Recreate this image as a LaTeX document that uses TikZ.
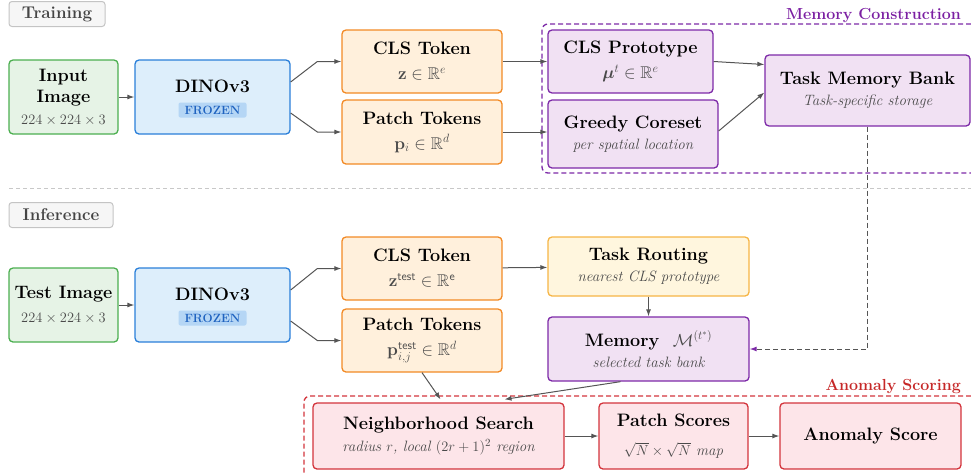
\documentclass[tikz,border=0pt]{standalone}
\usepackage{amsmath,amssymb}
\usetikzlibrary{arrows.meta,calc}

\definecolor{grnline}{HTML}{4CAF50}
\definecolor{grnfill}{HTML}{E6F3E6}
\definecolor{bluline}{HTML}{2A7FD9}
\definecolor{blufill}{HTML}{DDEEFB}
\definecolor{frzfill}{HTML}{B5D6F5}
\definecolor{frztext}{HTML}{1F63C0}
\definecolor{orgline}{HTML}{F28A25}
\definecolor{orgfill}{HTML}{FFF0DC}
\definecolor{purline}{HTML}{7D2AA8}
\definecolor{purfill}{HTML}{F1E1F3}
\definecolor{ambline}{HTML}{F6B545}
\definecolor{ambfill}{HTML}{FFF6DE}
\definecolor{redline}{HTML}{D3343C}
\definecolor{redfill}{HTML}{FDE5E9}
\definecolor{tagline}{HTML}{C4C4C4}
\definecolor{tagfill}{HTML}{F6F6F6}
\definecolor{tagtext}{HTML}{454545}
\definecolor{arrgray}{HTML}{555555}
\definecolor{subgray}{HTML}{4A4A4A}
\definecolor{sepgray}{HTML}{C8C8C8}
\definecolor{purtext}{HTML}{7B1FA2}
\definecolor{redtext}{HTML}{C62828}

\newcommand{\boxtitle}{\fontsize{18}{21}\selectfont\bfseries}
\newcommand{\subtxt}{\fontsize{15}{17}\selectfont\mdseries\itshape\color{subgray}}
\newcommand{\dimtxt}{\fontsize{15}{17}\selectfont\mdseries\color{subgray}}
\newcommand{\mathtxt}{\fontsize{17}{19}\selectfont\mdseries\color{subgray}}

\begin{document}
\begin{tikzpicture}[x=1pt,y=-1pt,
		box/.style={rectangle,rounded corners=4pt,line width=1.3pt,align=center,inner sep=0pt,font=\boxtitle},
		inbox/.style={box,draw=grnline,fill=grnfill},
		dinobox/.style={box,draw=bluline,fill=blufill},
		tokbox/.style={box,draw=orgline,fill=orgfill},
		membox/.style={box,draw=purline,fill=purfill},
		routebox/.style={box,draw=ambline,fill=ambfill},
		scorebox/.style={box,draw=redline,fill=redfill},
		tag/.style={rectangle,rounded corners=3pt,draw=tagline,fill=tagfill,line width=1pt,text=tagtext,font=\fontsize{17}{19}\selectfont\bfseries,minimum height=25pt,inner sep=0pt},
		frozen/.style={rectangle,rounded corners=2pt,fill=frzfill,text=frztext,font=\fontsize{12}{14}\selectfont\bfseries,minimum width=68pt,minimum height=15pt,inner sep=0pt},
		grouplabel/.style={anchor=east,inner sep=0pt,font=\fontsize{16}{18}\selectfont\bfseries},
		arr/.style={-{Latex[length=7pt,width=5pt]},line width=1pt,draw=arrgray},
		group/.style={line width=1.3pt,dash pattern=on 5pt off 3pt,rounded corners=6pt},
	]
	\useasboundingbox (0,0) rectangle (971,475);
	
	% training
	\node[tag,minimum width=96pt] (train) at (57,14) {Training};
	\draw[group,draw=purline] (971,24) -- (542,24) -- (542,173) -- (971,173);
	\node[grouplabel,text=purtext] (memlabel) at (961,16) {Memory Construction};
	
	\node[inbox,minimum width=109pt,minimum height=74pt] (inimg) at (63.5,97) {Input\\Image\\[1pt]\dimtxt $224\times224\times3$};
	\node[dinobox,minimum width=155pt,minimum height=74pt] (dino1) at (212.5,97) {};
	\node[font=\boxtitle,inner sep=0pt] (dinotxt1) at ($(dino1)+(0,-10.5)$) {DINOv3};
	\node[frozen] (frz1) at ($(dino1)+(0,13)$) {FROZEN};
	
	\node[tokbox,minimum width=160pt,minimum height=63pt] (cls1) at (422,61.5) {CLS Token\\[4pt]\mathtxt $\mathbf{z}\in\mathbb{R}^{e}$};
	\node[tokbox,minimum width=160pt,minimum height=64pt] (patch1) at (422,132) {Patch Tokens\\[4pt]\mathtxt $\mathbf{p}_{i}\in\mathbb{R}^{d}$};
	\node[membox,minimum width=165pt,minimum height=63pt] (proto) at (630.5,61.5) {CLS Prototype\\[4pt]\mathtxt $\boldsymbol{\mu}^{t}\in\mathbb{R}^{e}$};
	\node[membox,minimum width=170pt,minimum height=68pt] (coreset) at (633,134) {Greedy Coreset\\\subtxt per spatial location};
	\node[membox,minimum width=205pt,minimum height=71pt] (bank) at (867.5,90.5) {Task Memory Bank\\\subtxt Task-specific storage};
	
	\draw[arr] (inimg) -- (dino1);
	\draw[arr] ($(dino1.east)+(0,-15)$) -- ([xshift=-24pt]cls1.west) -- (cls1.west);
	\draw[arr] ($(dino1.east)+(0,16)$) -- ([xshift=-24pt]patch1.west) -- (patch1.west);
	\draw[arr] (cls1) -- (proto);
	\draw[arr] (patch1.east) -- (patch1.east -| coreset.west);
	\draw[arr] (proto.east) -- ($(bank.west)+(0,-26)$);
	\draw[arr] ($(coreset.east)+(0,-3)$) -- ($(bank.west)+(0,2)$);
	
	\draw[sepgray,line width=0.8pt,dash pattern=on 4pt off 3pt] (9,188) -- (971,188);
	
	% inference
	\node[tag,minimum width=104pt] (infer) at (61,215) {Inference};
	\draw[group,draw=redline] (971,396) -- (304,396) -- (304,475);
	\node[grouplabel,text=redtext] (scorelabel) at (961,386) {Anomaly Scoring};
	
	\node[inbox,minimum width=109pt,minimum height=74pt] (testimg) at (63.5,305) {Test Image\\[3pt]\dimtxt $224\times224\times3$};
	\node[dinobox,minimum width=155pt,minimum height=74pt] (dino2) at (212.5,305) {};
	\node[font=\boxtitle,inner sep=0pt] (dinotxt2) at ($(dino2)+(0,-10.5)$) {DINOv3};
	\node[frozen] (frz2) at ($(dino2)+(0,13)$) {FROZEN};
	
	\node[tokbox,minimum width=160pt,minimum height=63pt] (cls2) at (422,268.5) {CLS Token\\[4pt]\mathtxt $\mathbf{z}^{\mathsf{test}}\in\mathbb{R}^{\mathsf{e}}$};
	\node[tokbox,minimum width=160pt,minimum height=63pt] (patch2) at (422,340.5) {Patch Tokens\\[4pt]\mathtxt $\mathbf{p}^{\mathsf{test}}_{i,j}\in\mathbb{R}^{d}$};
	\node[routebox,minimum width=201pt,minimum height=59pt] (route) at (648.5,266.5) {Task Routing\\\subtxt nearest CLS prototype};
	\node[membox,minimum width=201pt,minimum height=64pt] (mem) at (648.5,349) {Memory~~{\mathtxt $\mathcal{M}^{(t^{*})}$}\\\subtxt selected task bank};
	
	\node[scorebox,minimum width=251pt,minimum height=66pt] (search) at (438.5,436) {Neighborhood Search\\[1pt]\subtxt radius $r$, local $(2r+1)^{2}$ region};
	\node[scorebox,minimum width=149pt,minimum height=66pt] (pscore) at (673.5,436) {Patch Scores\\[8pt]\subtxt $\sqrt{N}\times\sqrt{N}$ map};
	\node[scorebox,minimum width=181pt,minimum height=66pt] (ascore) at (870.5,436) {Anomaly Score};
	
	\draw[arr] (testimg) -- (dino2);
	\draw[arr] ($(dino2.east)+(0,-15)$) -- ([xshift=-24pt]cls2.west) -- (cls2.west);
	\draw[arr] ($(dino2.east)+(0,16)$) -- ([xshift=-24pt]patch2.west) -- (patch2.west);
	\draw[arr] (cls2) -- (route);
	\draw[arr] (route) -- (mem);
	\draw[arr,dash pattern=on 5pt off 3pt,-{Latex[length=7pt,width=5pt,color=purline]}] (bank.south) |- (mem.east);
	\draw[arr] (patch2.south) -- ($(search.north)+(2,-3)$);
	\draw[arr] ($(mem.south)+(-28,0)$) -- ($(search.north)+(66,-3)$);
	\draw[arr] (search) -- (pscore);
	\draw[arr] (pscore) -- (ascore);
	
\end{tikzpicture}
\end{document}
